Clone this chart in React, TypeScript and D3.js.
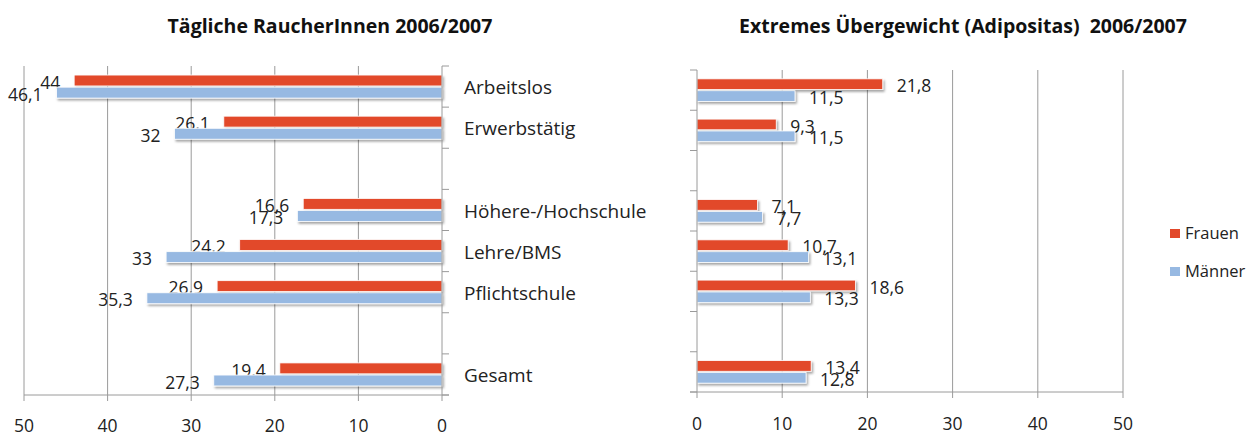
import React from 'react';
import * as d3 from 'd3';

// slots incl. the two empty rows between groups
const slots = ['Arbeitslos', 'Erwerbstätig', 'gap1', 'Höhere-/Hochschule', 'Lehre/BMS', 'Pflichtschule', 'gap2', 'Gesamt'];
const categories = ['Arbeitslos', 'Erwerbstätig', 'Höhere-/Hochschule', 'Lehre/BMS', 'Pflichtschule', 'Gesamt'];
const series = ['Frauen', 'Männer'];

const smokersFrauen = [44, 26.1, 16.6, 24.2, 26.9, 19.4];
const smokersMaenner = [46.1, 32, 17.3, 33, 35.3, 27.3];
const obeseFrauen = [21.8, 9.3, 7.1, 10.7, 18.6, 13.4];
const obeseMaenner = [11.5, 11.5, 7.7, 13.1, 13.3, 12.8];

const xTicks = [0, 10, 20, 30, 40, 50];
const colors = { Frauen: '#E2482A', Männer: '#97B9E2' };

const FONT = 'Open Sans, sans-serif';
const fmt = (v: number) => String(v).replace('.', ',');

type PanelProps = {
  title: string;
  titleX: number;
  frauen: number[];
  maenner: number[];
  xRange: [number, number];
  yRange: [number, number];
  tickLabelY: number;
  mirrored: boolean;
};

const Panel: React.FC<PanelProps> = ({ title, titleX, frauen, maenner, xRange, yRange, tickLabelY, mirrored }) => {
  const x = d3.scaleLinear().domain([0, 50]).range(xRange);
  const y = d3.scaleBand<string>().domain(slots).range(yRange).padding(0);
  const bw = y.bandwidth();
  const inner = d3.scaleBand<string>().domain(series).range([bw * 0.22, bw * 0.78]).paddingInner(0.1);
  const x0 = x(0);
  const [top, bottom] = yRange;
  const tickDir = mirrored ? 7 : -7;
  const boundaries = slots.map(s => y(s) as number).concat([bottom]);

  const rows = categories.map((c, i) => ({ c, vals: { Frauen: frauen[i], Männer: maenner[i] } as Record<string, number> }));

  return (
    <g>
      <text x={titleX} y={33} textAnchor="middle" fontFamily={FONT} fontWeight={700} fontSize={19.5} fill="#111"
        style={{ whiteSpace: 'pre' }}>{title}</text>
      {/* gridlines */}
      {xTicks.filter(t => t !== 0).map(t => (
        <line key={t} x1={x(t)} x2={x(t)} y1={top} y2={bottom} stroke="#9a9a9a" strokeWidth={1} />
      ))}
      {/* x axis */}
      <line x1={Math.min(x(50), x0 + tickDir)} x2={Math.max(x(50), x0 + tickDir)} y1={bottom} y2={bottom} stroke="#9a9a9a" />
      {xTicks.map(t => (
        <g key={t}>
          <line x1={x(t)} x2={x(t)} y1={bottom} y2={bottom + 6} stroke="#9a9a9a" />
          <text x={x(t)} y={tickLabelY} textAnchor="middle" fontFamily={FONT} fontSize={17.5} fill="#222">{t}</text>
        </g>
      ))}
      {/* bars */}
      {rows.map(r => series.map(s => {
        const v = r.vals[s];
        const yy = (y(r.c) as number) + (inner(s) as number);
        const xEnd = x(v);
        return (
          <g key={r.c + s}>
            <rect x={Math.min(x0, xEnd)} y={yy} width={Math.abs(xEnd - x0)} height={inner.bandwidth()}
              fill={colors[s as 'Frauen' | 'Männer']} stroke="#fff" strokeWidth={0.8} filter="url(#shadow)" />
            <text x={mirrored ? xEnd - 14 : xEnd + 14} y={yy + inner.bandwidth() / 2 + 2} dy="0.35em"
              textAnchor={mirrored ? 'end' : 'start'} fontFamily={FONT} fontSize={17.5} fill="#222">{fmt(v)}</text>
          </g>
        );
      }))}
      {/* category axis */}
      <line x1={x0} x2={x0} y1={top} y2={bottom} stroke="#9a9a9a" />
      {boundaries.map((b, i) => (
        <line key={i} x1={x0} x2={x0 + tickDir} y1={b} y2={b} stroke="#9a9a9a" />
      ))}
    </g>
  );
};

export default function App() {
  const yLab = d3.scaleBand<string>().domain(slots).range([66, 395]);
  return (
    <svg width={1255} height={437} style={{ position: 'fixed', left: 0, top: 0, background: '#fff' }}>
      <defs>
        <filter id="shadow" x="-10%" y="-40%" width="130%" height="200%">
          <feDropShadow dx={1.5} dy={2} stdDeviation={1.2} floodColor="#000" floodOpacity={0.35} />
        </filter>
      </defs>
      <rect width={1255} height={437} fill="#fff" />
      <Panel title="Tägliche RaucherInnen 2006/2007" titleX={330}
        frauen={smokersFrauen} maenner={smokersMaenner}
        xRange={[442, 24]} yRange={[66, 395]} tickLabelY={432} mirrored={true} />
      <Panel title="Extremes Übergewicht (Adipositas)  2006/2007" titleX={963}
        frauen={obeseFrauen} maenner={obeseMaenner}
        xRange={[697, 1123]} yRange={[70, 392]} tickLabelY={430} mirrored={false} />
      {/* category labels between the panels */}
      {categories.map(c => (
        <text key={c} x={464} y={(yLab(c) as number) + yLab.bandwidth() / 2 + 1} dy="0.35em"
          fontFamily={FONT} fontSize={19} fill="#222">{c}</text>
      ))}
      {/* legend */}
      {series.map((s, i) => (
        <g key={s} transform={`translate(1170, ${229 + i * 38})`}>
          <rect width={10} height={9} fill={colors[s as 'Frauen' | 'Männer']} />
          <text x={15} y={4.5} dy="0.35em" fontFamily={FONT} fontSize={16.5} fill="#222">{s}</text>
        </g>
      ))}
    </svg>
  );
}
